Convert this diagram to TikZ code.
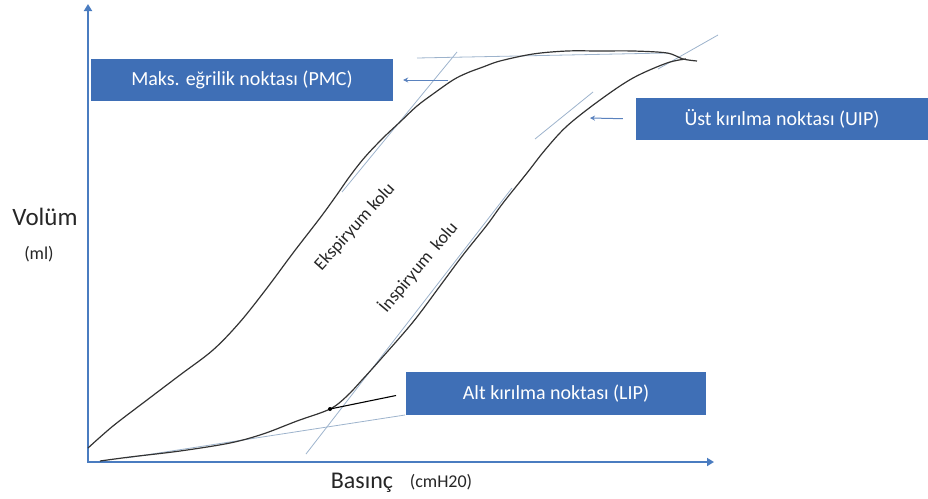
\documentclass[tikz,border=0pt]{standalone}
\usepackage{fontspec}
\setmainfont{Carlito}
\usetikzlibrary{arrows.meta}
\definecolor{boxblue}{HTML}{3F6FB6}
\definecolor{axisblue}{HTML}{4A7CC0}
\definecolor{tangentc}{HTML}{9DB3CC}
\definecolor{arrowc}{HTML}{5A82BE}
\begin{document}
\begin{tikzpicture}[x=1pt,y=-1pt]
\useasboundingbox (0,0) rectangle (928,498);
\tikzset{
 infobox/.style={fill=boxblue, text=white, minimum height=42pt, inner sep=0pt, font=\fontsize{20}{23}\selectfont},
 tangent/.style={draw=tangentc, line width=0.8pt},
 limb/.style={draw=black!80, line width=1.2pt, line join=round},
 axis/.style={draw=axisblue, line width=2.4pt, {Triangle[length=7pt,width=8pt]}-{Triangle[length=7pt,width=8pt]}},
 pointer/.style={draw=arrowc, line width=1pt, -{Stealth[length=5pt,width=5pt]}},
 armlabel/.style={font=\fontsize{18}{20}\selectfont, text=black!85},
}
% axes
\coordinate (O) at (88,462);
\coordinate (ytop) at (88,4);
\coordinate (xend) at (714,462);
\draw[axis] (ytop) -- (O) -- (xend);

% tangents
\coordinate (th1) at (417,58);  \coordinate (th2) at (667,53);
\coordinate (ts1) at (457,52);  \coordinate (ts2) at (342,192);
\coordinate (tu1) at (535,139); \coordinate (tu2) at (593,92);
\coordinate (tr1) at (658,69);  \coordinate (tr2) at (718,35);
\coordinate (tl1) at (126,458); \coordinate (tl2) at (405,415);
\coordinate (ti1) at (306,454); \coordinate (ti2) at (512,188);
\draw[tangent] (th1) -- (th2);
\draw[tangent] (ts1) -- (ts2);
\draw[tangent] (tu1) -- (tu2);
\draw[tangent] (tr1) -- (tr2);
\draw[tangent] (tl1) -- (tl2);
\draw[tangent] (ti1) -- (ti2);

% expiratory limb
\draw[limb] plot[smooth, tension=0.55] coordinates {(88,448) (113,426) (147,400) (180,375) (213,350) (240,322) (267,288) (293,253) (320,218) (336,196) (350,176) (365,157) (383,138) (400,122) (417,106) (433,94) (453,80) (467,73) (483,67) (500,61) (533,54) (567,51) (600,51) (633,51) (667,53) (683,59) (697,61)};
% inspiratory limb
\draw[limb] plot[smooth, tension=0.55] coordinates {(100,461) (130,457) (180,451) (230,443) (263,434) (297,421) (330,409) (347,396) (362,380) (380,360) (413,322) (440,286) (463,255) (487,225) (503,203) (527,173) (545,150) (567,126) (600,100) (633,78) (667,63) (686,59)};

% boxes
\node[infobox, minimum width=302pt] (pmc) at (242,80) {Maks. eğrilik noktası (PMC)};
\node[infobox, minimum width=292pt] (uip) at (782,119) {Üst kırılma noktası (UIP)};
\node[infobox, minimum width=300pt, minimum height=43pt] (lip) at (556,393.5) {Alt kırılma noktası (LIP)};

% pointers
\coordinate (pmcA) at (448,80);
\draw[pointer, shorten >=10pt] (pmcA) -- (pmc.east);
\coordinate (uipA) at (590,118);
\draw[pointer, shorten <=13pt] (uip.west) -- (uipA);
\coordinate (lipdot) at (330,409);
\draw[black, line width=1.1pt, shorten <=10pt] (lip.west) -- (lipdot);
\fill[black] (lipdot) circle (2pt);

% arm labels
\node[armlabel, rotate=48] (eks) at (355,227) {Ekspiryum kolu};
\node[armlabel, rotate=50] (ins) at (418,267) {İnspiryum\ \ kolu};

% axis labels
\node[anchor=base, font=\fontsize{25}{28}\selectfont, text=black!85] (vol) at (45,225) {Volüm};
\node[anchor=base, font=\fontsize{18}{20}\selectfont, text=black!85] (ml) at (39,259) {(ml)};
\node[anchor=base, font=\fontsize{24}{28}\selectfont, text=black!85] (bas) at (362,488) {Basınç};
\node[anchor=base, font=\fontsize{18}{20}\selectfont, text=black!85] (cmh) at (441,487) {(cmH20)};
\end{tikzpicture}
\end{document}
